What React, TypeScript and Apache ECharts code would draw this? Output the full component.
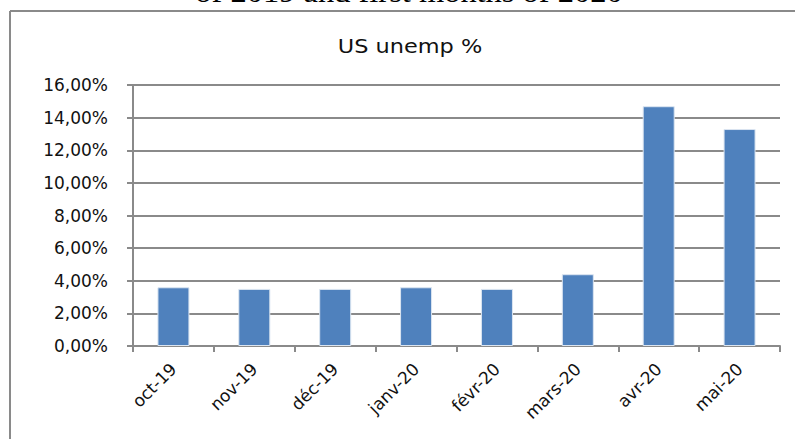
import React, { useEffect, useRef } from "react";
import * as echarts from "echarts";

const categories = ["oct-19", "nov-19", "déc-19", "janv-20", "févr-20", "mars-20", "avr-20", "mai-20"];
const unemp = [3.6, 3.5, 3.5, 3.6, 3.5, 4.4, 14.7, 13.3];
const chartTitle = "US unemp %";
const clippedHeading = "of 2019 and first months of 2020";

export default function App() {
  const ref = useRef<HTMLDivElement>(null);
  useEffect(() => {
    if (!ref.current) return;
    const chart = echarts.init(ref.current, null, { renderer: "svg" });
    const font = "'DejaVu Sans', 'Open Sans', sans-serif";
    chart.setOption({
      animation: false,
      backgroundColor: "#ffffff",
      grid: { left: 133, right: 15, top: 85, bottom: 93 },
      graphic: [
        {
          type: "line",
          shape: { x1: 10, y1: 11, x2: 795, y2: 11 },
          style: { stroke: "#8a8a8a", lineWidth: 2 },
        },
        {
          type: "line",
          shape: { x1: 10, y1: 11, x2: 10, y2: 439 },
          style: { stroke: "#8a8a8a", lineWidth: 2 },
        },
        {
          type: "text",
          x: 409,
          y: 7,
          scaleX: 1.12,
          style: {
            text: clippedHeading,
            font: "29px 'Liberation Serif', 'DejaVu Serif', serif",
            fill: "#000",
            textAlign: "center",
            textVerticalAlign: "bottom",
          },
        },
        {
          type: "text",
          x: 410,
          y: 47,
          scaleX: 1.18,
          style: {
            text: chartTitle,
            font: "19px " + font,
            fill: "#111",
            textAlign: "center",
            textVerticalAlign: "middle",
          },
        },
      ],
      xAxis: {
        type: "category",
        data: categories,
        boundaryGap: true,
        axisLine: { show: true, lineStyle: { color: "#8a8a8a", width: 2 } },
        axisTick: { show: true, length: 6, alignWithLabel: false, lineStyle: { color: "#8a8a8a", width: 2 } },
        axisLabel: { rotate: 45, fontSize: 17, fontFamily: font, color: "#111", margin: 20, interval: 0 },
      },
      yAxis: {
        type: "value",
        min: 0,
        max: 16,
        interval: 2,
        axisLine: { show: true, lineStyle: { color: "#8a8a8a", width: 2 } },
        axisTick: { show: true, inside: false, length: 6, lineStyle: { color: "#8a8a8a", width: 2 } },
        axisLabel: {
          fontSize: 17,
          fontFamily: font,
          color: "#111",
          margin: 25,
          formatter: (v: number) => v.toFixed(2).replace(".", ",") + "%",
        },
        splitLine: { show: true, lineStyle: { color: "#8a8a8a", width: 2 } },
      },
      series: [
        {
          type: "bar",
          data: unemp,
          barWidth: 32,
          itemStyle: { color: "#4f81bd", borderColor: "#dbe5f1", borderWidth: 1 },
        },
      ],
    });
    return () => chart.dispose();
  }, []);
  return (
    <div
      ref={ref}
      style={{ position: "absolute", left: 0, top: 0, width: 795, height: 439 }}
    />
  );
}
